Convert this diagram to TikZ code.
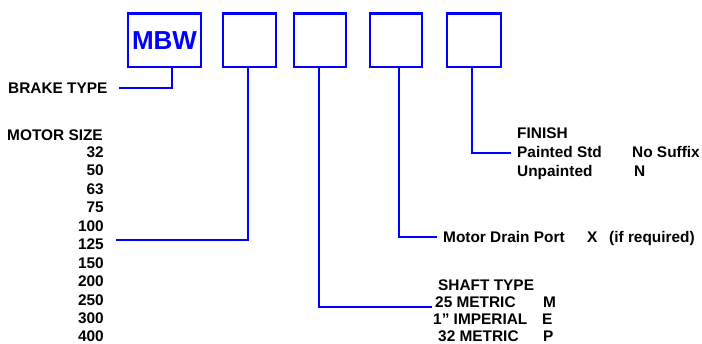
\documentclass[tikz,border=0pt]{standalone}
\usepackage{fontspec}
\setmainfont{Liberation Sans}
\definecolor{lineblue}{RGB}{0,0,255}
\begin{document}
\begin{tikzpicture}[x=1pt,y=-1pt,
  codebox/.style={draw=lineblue,line width=2.4pt,inner sep=0pt,minimum height=53.5pt},
  conn/.style={draw=lineblue,line width=2.5pt,line join=miter},
  lbl/.style={inner sep=0pt,anchor=base west,font=\fontsize{15.4}{18}\selectfont\bfseries},
  num/.style={inner sep=0pt,anchor=base east,font=\fontsize{15.4}{18}\selectfont\bfseries}]
\useasboundingbox (0,0) rectangle (702,344);
% boxes
\node[codebox,minimum width=73pt,text=lineblue,font=\fontsize{26}{30}\selectfont\bfseries] (mbw) at (164.5,40.25) {MBW};
\node[codebox,minimum width=53pt] (b2) at (249.5,40.25) {};
\node[codebox,minimum width=52.5pt] (b3) at (320,40.25) {};
\node[codebox,minimum width=52.5pt] (b4) at (396,40.25) {};
\node[codebox,minimum width=53.5pt] (b5) at (474,40.25) {};
% brake type
\node[lbl] (bt) at (8,94) {BRAKE TYPE};
\coordinate (btc) at (119,88);
\draw[conn] (btc) -| ([xshift=7.5pt]mbw.south);
% motor size
\node[lbl] (ms) at (7,141) {MOTOR SIZE};
\node[num] (n32) at (104,157.5) {32};
\node[num] (n50) at (104,176) {50};
\node[num] (n63) at (104,194.4) {63};
\node[num] (n75) at (104,212.9) {75};
\node[num] (n100) at (104,231.3) {100};
\node[num] (n125) at (104,249.8) {125};
\node[num] (n150) at (104,268.2) {150};
\node[num] (n200) at (104,286.7) {200};
\node[num] (n250) at (104,305.1) {250};
\node[num] (n300) at (104,323.6) {300};
\node[num] (n400) at (104,342) {400};
\coordinate (msc) at (116,240);
\draw[conn] (msc) -| ([xshift=-1.5pt]b2.south);
% shaft type
\node[lbl] (st) at (438,291) {SHAFT TYPE};
\node[lbl] (s1) at (435,308) {25 METRIC};
\node[lbl] (s1c) at (543,308) {M};
\node[lbl] (s2) at (433,325) {1” IMPERIAL};
\node[lbl] (s2c) at (542,325) {E};
\node[lbl] (s3) at (438,342) {32 METRIC};
\node[lbl] (s3c) at (543,342) {P};
\coordinate (stc) at (432,307);
\draw[conn] (stc) -| ([xshift=-1pt]b3.south);
% drain port
\node[lbl] (dp) at (443,243) {Motor Drain Port};
\node[lbl] (dpx) at (587,243) {X};
\node[lbl] (dpr) at (609,243) {(if required)};
\coordinate (dpc) at (437,237);
\draw[conn] (dpc) -| ([xshift=3pt]b4.south);
% finish
\node[lbl] (fi) at (517,139) {FINISH};
\node[lbl] (f1) at (517,158) {Painted Std};
\node[lbl] (f1c) at (632,158) {No Suffix};
\node[lbl] (f2) at (517,177) {Unpainted};
\node[lbl] (f2c) at (634,177) {N};
\coordinate (fic) at (511,153);
\draw[conn] (fic) -| ([xshift=-2pt]b5.south);
\end{tikzpicture}
\end{document}
